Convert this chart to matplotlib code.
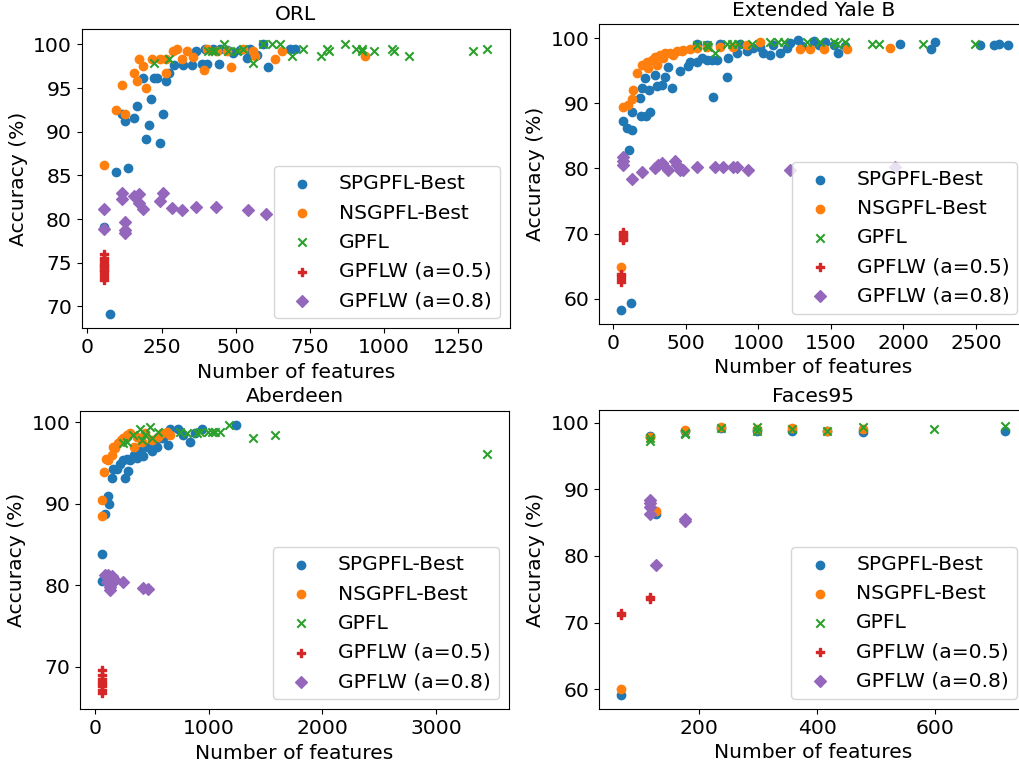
import matplotlib
matplotlib.use('Agg')
from matplotlib import pyplot as plt

# ORL
orl_sp_x = [76, 97, 136, 56, 116, 128, 157, 166, 197, 207, 215, 245, 256, 188, 225, 236, 265, 276, 293, 323, 354, 386, 402, 444,
            366, 396, 424, 447, 469, 492, 514, 548, 537, 570, 591, 610, 683, 700]
orl_sp_y = [69.1, 85.4, 85.8, 79.1, 92.0, 91.2, 91.6, 92.9, 89.2, 90.8, 93.7, 88.7, 92.0, 96.2, 96.2, 96.2, 95.8, 96.7, 97.6, 97.6, 97.6, 97.8, 97.8, 97.8,
            99.2, 99.5, 99.5, 99.5, 99.4, 99.0, 99.4, 99.5, 98.4, 98.8, 100.0, 97.4, 99.5, 99.5]
orl_ns_x = [56, 97, 128, 116, 157, 166, 175, 188, 197, 217, 245, 265, 265, 290, 301, 318, 335, 357, 394, 402, 436, 469, 483,
            526, 559, 565, 632, 657, 935]
orl_ns_y = [86.2, 92.5, 92.0, 95.3, 96.7, 95.8, 98.3, 97.5, 95.0, 98.3, 98.3, 98.3, 96.7, 99.2, 99.5, 98.3, 99.2, 98.6, 97.1, 99.5, 99.2, 99.2, 97.4,
            99.5, 99.2, 98.7, 98.3, 99.2, 98.7]
orl_gp_x = [225, 276, 408, 419, 430, 460, 475, 503, 526, 559, 591, 621, 649, 691, 728, 786, 809, 815, 868, 904, 924, 927, 966,
            1025, 1033, 1083, 1300, 1348]
orl_gp_y = [97.9, 98.3, 99.2, 99.2, 99.2, 100.0, 99.2, 99.2, 99.5, 97.9, 100.0, 100.0, 100.0, 98.7, 99.5, 98.7, 99.5, 99.2, 100.0, 99.5, 99.5, 99.2, 99.2,
            99.5, 99.2, 98.7, 99.2, 99.5]
orl_w5_x = [56, 56, 56, 56, 56, 56, 56, 56, 56, 56, 56, 56]
orl_w5_y = [76.0, 75.6, 75.3, 75.0, 74.8, 74.6, 74.4, 74.2, 74.0, 73.7, 73.4, 73.0]
orl_w8_x = [56, 56, 116, 116, 128, 128, 128, 157, 175, 175, 188, 245, 256, 284, 318, 366, 433, 542, 602]
orl_w8_y = [81.1, 78.9, 83.0, 82.3, 79.7, 78.7, 78.4, 82.6, 82.9, 81.8, 81.1, 82.1, 83.0, 81.3, 81.0, 81.4, 81.4, 81.0, 80.6]

# Extended Yale B
yale_sp_x = [53, 120, 110, 69, 92, 126, 126, 184, 195, 189, 225, 253, 218, 246, 287, 299, 333, 356, 375, 402,
             460, 517, 529, 575, 609, 644, 690, 678, 713, 782, 793, 851, 920, 966, 1035, 1081, 1150, 1196, 1276, 1380,
             1460, 1552, 1518, 1973, 2190, 2219, 2530, 2622, 2656, 2718, 575, 644, 736, 874, 1012, 1104, 1219, 1300, 1420, 1600]
yale_sp_y = [58.3, 59.4, 82.8, 87.3, 86.2, 85.9, 88.6, 90.8, 92.3, 88.1, 88.1, 88.6, 93.9, 92.1, 94.4, 92.7, 92.8, 94.1, 95.6, 92.3,
             94.9, 95.7, 96.4, 96.4, 96.9, 96.7, 91.0, 96.7, 96.7, 94.1, 96.9, 97.7, 98.0, 98.5, 97.7, 97.4, 97.7, 98.5, 99.7, 99.6,
             99.5, 97.7, 99.0, 99.2, 98.3, 99.4, 99.0, 98.9, 99.1, 98.9, 99.2, 98.9, 99.2, 99.2, 98.7, 99.0, 99.3, 98.8, 99.0, 98.8]
yale_ns_x = [53, 69, 104, 126, 133, 161, 195, 230, 241, 299, 264, 287, 322, 356, 391, 437, 483, 529, 575, 644,
             736, 828, 920, 1012, 1288, 1357, 1449, 1610, 1909, 345, 410, 470]
yale_ns_y = [64.8, 89.5, 89.8, 90.6, 92.1, 94.7, 95.9, 96.3, 95.4, 95.9, 96.7, 97.2, 97.4, 97.7, 97.8, 98.0, 98.2, 98.3, 98.5, 98.7,
             98.7, 98.7, 99.0, 99.5, 98.4, 98.4, 98.4, 98.4, 98.5, 97.0, 97.5, 98.0]
yale_gp_x = [575, 644, 655, 701, 782, 816, 862, 954, 1081, 1138, 1173, 1334, 1426, 1518, 1541, 1598, 1782, 1829, 2134, 2495]
yale_gp_y = [98.9, 99.0, 98.7, 97.7, 99.2, 99.2, 99.2, 99.2, 99.4, 99.4, 99.4, 99.4, 99.4, 99.4, 99.2, 99.4, 99.2, 99.2, 99.1, 99.2]
yale_w5_x = [69, 69, 69, 69, 69, 69, 53, 53, 53, 53]
yale_w5_y = [70.3, 70.0, 69.8, 69.5, 69.2, 69.0, 63.8, 63.4, 63.0, 62.6]
yale_w8_x = [69, 69, 69, 126, 200, 287, 310, 333, 379, 425, 437, 460, 483, 575, 701, 759, 828, 851, 931, 1219, 1943]
yale_w8_y = [81.8, 81.1, 80.5, 78.4, 79.4, 80.0, 80.5, 80.9, 79.8, 81.1, 80.5, 79.8, 79.8, 80.2, 80.2, 80.2, 80.2, 80.2, 79.8, 79.7, 80.2]

# Aberdeen
ab_sp_x = [59, 59, 88, 126, 117, 152, 161, 191, 264, 293, 249, 308, 367, 425, 499, 543, 601, 645, 660, 733,
           777, 836, 880, 938, 1240, 220, 280, 340, 400, 460, 520, 580]
ab_sp_y = [83.8, 80.5, 88.7, 90.0, 90.9, 93.2, 94.2, 94.2, 93.1, 94.0, 95.3, 95.3, 95.6, 95.8, 96.4, 97.0, 98.0, 97.2, 99.2, 99.2,
           98.4, 97.6, 98.6, 99.2, 99.6, 94.8, 95.5, 96.0, 96.5, 97.0, 97.5, 98.0]
ab_ns_x = [59, 59, 82, 117, 147, 176, 205, 249, 279, 308, 367, 411, 440, 499, 557, 587, 630, 660, 100, 160, 230, 340]
ab_ns_y = [88.5, 90.4, 93.9, 95.3, 96.0, 96.8, 97.4, 98.0, 98.4, 98.6, 98.2, 97.6, 98.6, 97.8, 98.2, 98.6, 98.8, 98.4, 95.5, 97.0, 97.8, 97.0]
ab_gp_x = [249, 279, 337, 396, 411, 440, 484, 499, 557, 748, 806, 894, 924, 997, 1026, 1056, 1100, 1182, 1387, 1584, 3452]
ab_gp_y = [97.4, 97.6, 98.4, 99.2, 97.8, 98.4, 99.4, 98.0, 98.8, 98.8, 98.6, 98.6, 98.8, 98.8, 98.8, 98.8, 98.8, 99.6, 98.1, 98.4, 96.1]
ab_w5_x = [59, 59, 59, 59, 59, 59, 59, 59]
ab_w5_y = [69.6, 69.0, 68.5, 68.2, 67.9, 67.6, 67.2, 66.8]
ab_w8_x = [88, 117, 147, 103, 132, 132, 176, 249, 425, 469]
ab_w8_y = [81.3, 81.3, 81.1, 80.4, 79.8, 79.4, 80.7, 80.4, 79.7, 79.6]

# Faces95
f_sp_x = [68, 116, 127, 176, 237, 298, 357, 417, 477, 718]
f_sp_y = [59.2, 98.0, 86.3, 98.8, 99.2, 98.7, 98.8, 98.8, 98.6, 98.8]
f_ns_x = [68, 116, 127, 176, 237, 298, 357, 417, 477]
f_ns_y = [60.1, 97.9, 86.8, 98.9, 99.3, 99.0, 99.2, 98.8, 99.0]
f_gp_x = [116, 116, 176, 176, 237, 298, 298, 357, 417, 477, 598, 718]
f_gp_y = [97.7, 97.2, 98.5, 98.3, 99.2, 99.4, 98.8, 99.0, 98.7, 99.4, 99.0, 99.5]
f_w5_x = [68, 68, 116, 116]
f_w5_y = [71.5, 71.2, 73.9, 73.6]
f_w8_x = [116, 116, 116, 116, 127, 176, 176]
f_w8_y = [88.4, 87.9, 87.4, 86.3, 78.6, 85.6, 85.3]

labels = ['SPGPFL-Best', 'NSGPFL-Best', 'GPFL', 'GPFLW (a=0.5)', 'GPFLW (a=0.8)']
markers = ['o', 'o', 'x', 'P', 'D']
colors = ['tab:blue', 'tab:orange', 'tab:green', 'tab:red', 'tab:purple']

plt.rcParams['font.size'] = 14.6
plt.rcParams['axes.titlesize'] = 'medium'

fig = plt.figure(figsize=(10.2, 7.62), dpi=100)


def panel(rect, title, series, xlim, ylim, xticks):
    ax = fig.add_axes(rect)
    for (x, y), lab, m, c in zip(series, labels, markers, colors):
        ax.scatter(x, y, marker=m, c=c, label=lab)
    ax.set_title(title)
    ax.set_xlabel('Number of features')
    ax.set_ylabel('Accuracy (%)')
    ax.set_xlim(xlim)
    ax.set_ylim(ylim)
    ax.set_xticks(xticks)
    ax.legend(loc='lower right')
    return ax


panel([0.0801, 0.5692, 0.4199, 0.3932], 'ORL',
      [(orl_sp_x, orl_sp_y), (orl_ns_x, orl_ns_y), (orl_gp_x, orl_gp_y), (orl_w5_x, orl_w5_y), (orl_w8_x, orl_w8_y)],
      (-19, 1424), (67.5, 101.8), [0, 250, 500, 750, 1000, 1250])
panel([0.5875, 0.5748, 0.4199, 0.3933], 'Extended Yale B',
      [(yale_sp_x, yale_sp_y), (yale_ns_x, yale_ns_y), (yale_gp_x, yale_gp_y), (yale_w5_x, yale_w5_y), (yale_w8_x, yale_w8_y)],
      (-97, 2855), (56.1, 102.15), [0, 500, 1000, 1500, 2000, 2500])
panel([0.0784, 0.0692, 0.4206, 0.3919], 'Aberdeen',
      [(ab_sp_x, ab_sp_y), (ab_ns_x, ab_ns_y), (ab_gp_x, ab_gp_y), (ab_w5_x, ab_w5_y), (ab_w8_x, ab_w8_y)],
      (-132, 3642), (64.8, 101.4), [0, 1000, 2000, 3000])
panel([0.5873, 0.0696, 0.4199, 0.3924], 'Faces95',
      [(f_sp_x, f_sp_y), (f_ns_x, f_ns_y), (f_gp_x, f_gp_y), (f_w5_x, f_w5_y), (f_w8_x, f_w8_y)],
      (30.5, 756), (57.05, 101.9), [200, 400, 600])

plt.savefig('out.png')
